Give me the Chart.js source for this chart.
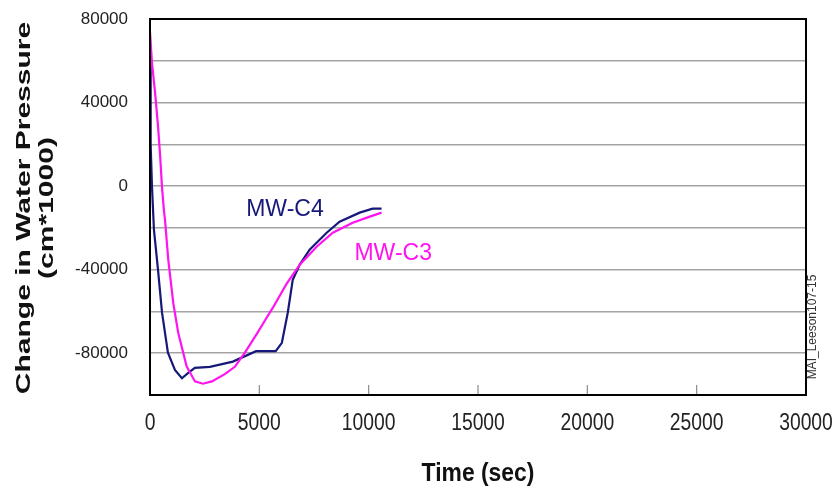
<!DOCTYPE html>
<html>
<head>
<meta charset="utf-8">
<script src="https://cdn.jsdelivr.net/npm/chart.js@4.4.0/dist/chart.umd.min.js"></script>
<style>
  body { margin: 0; background: #fff; }
</style>
</head>
<body>
<canvas id="myChart" width="837" height="493"></canvas>
<script>
// MW-C4 (navy) readings
const c4Time = [0, 20, 40, 90, 180, 365, 550, 820, 1140, 1460, 1735, 2050, 2740, 3790, 4850, 5750, 6030, 6300, 6530, 6850, 7300, 8080, 8670, 9590, 10180, 10590];
const c4Vals = [62000, 55000, 20000, 0, -20800, -40000, -60600, -79700, -88000, -92000, -89500, -87000, -86500, -84000, -79000, -79000, -75000, -60600, -44800, -37600, -30400, -22300, -17000, -12700, -10800, -10800];

// MW-C3 (magenta) readings
const c3Time = [0, 90, 230, 365, 460, 550, 640, 685, 835, 1065, 1290, 1675, 2055, 2420, 2830, 3420, 3880, 4340, 4870, 5340, 5620, 6250, 6850, 7620, 8360, 9270, 10050, 10590];
const c3Vals = [74000, 59000, 45000, 29000, 15000, -700, -12000, -16000, -35200, -56000, -70200, -86300, -93500, -94600, -93500, -90000, -86500, -79700, -71000, -62900, -58200, -46700, -37600, -29000, -22300, -17500, -14600, -12700];

const xTicks = [0, 5000, 10000, 15000, 20000, 25000, 30000];
const yLabelTicks = [80000, 40000, 0, -40000, -80000];

const seriesNames = ['MW-C4', 'MW-C3'];
const seriesColors = ['#16197a', '#ff14f0'];
// where the series names sit, in data units
const nameAt = [[4400, -11500], [9350, -32300]];

const sans = '"Liberation Sans", Arial, sans-serif';

function pts(t, v) {
  return t.map((x, i) => ({x: x, y: v[i]}));
}

// draws text squeezed or stretched along its own direction
function drawText(ctx, txt, x, y, rot, sx) {
  ctx.save();
  ctx.translate(x, y);
  ctx.rotate(rot);
  ctx.scale(sx, 1);
  ctx.fillText(txt, 0, 0);
  ctx.restore();
}

const frame = {
  id: 'frame',
  afterDatasetsDraw(chart) {
    const ctx = chart.ctx;
    const a = chart.chartArea;
    const xs = chart.scales.x;
    ctx.save();
    // little tick marks up from the bottom axis
    ctx.strokeStyle = '#8a8a8a';
    ctx.lineWidth = 1.2;
    xTicks.slice(1, -1).forEach(v => {
      const px = xs.getPixelForValue(v);
      ctx.beginPath();
      ctx.moveTo(px, a.bottom);
      ctx.lineTo(px, a.bottom - 10);
      ctx.stroke();
    });
    ctx.strokeStyle = '#000';
    ctx.lineWidth = 2;
    ctx.strokeRect(a.left, a.top, a.right - a.left, a.bottom - a.top);

    // series names
    ctx.font = '23px ' + sans;
    ctx.textAlign = 'left';
    ctx.textBaseline = 'middle';
    seriesNames.forEach((n, i) => {
      ctx.fillStyle = seriesColors[i];
      ctx.fillText(n, xs.getPixelForValue(nameAt[i][0]), chart.scales.y.getPixelForValue(nameAt[i][1]));
    });

    // x tick labels, narrow like the original
    ctx.textAlign = 'center';
    ctx.fillStyle = '#222';
    ctx.font = '23px ' + sans;
    xTicks.forEach(v => drawText(ctx, String(v), xs.getPixelForValue(v), a.bottom + 29, 0, 0.84));

    // x title
    ctx.fillStyle = '#111';
    ctx.font = 'bold 26px ' + sans;
    drawText(ctx, 'Time (sec)', (a.left + a.right) / 2, 474, 0, 0.88);

    // y title (stretched along its length like the original)
    ctx.font = 'bold 20px ' + sans;
    drawText(ctx, 'Change in Water Pressure', 24, 208, -Math.PI / 2, 1.5);
    drawText(ctx, '(cm*1000)', 47, 208, -Math.PI / 2, 1.5);

    // file tag on the right edge
    ctx.font = '12px ' + sans;
    ctx.fillStyle = '#333';
    drawText(ctx, 'MAI_Leeson107-15', 813, 327, -Math.PI / 2, 1);
    ctx.restore();
  }
};

const data = {
  datasets: [
    {
      label: seriesNames[0],
      data: pts(c4Time, c4Vals),
      borderColor: seriesColors[0],
      borderWidth: 2.2,
      pointRadius: 0,
      tension: 0,
      order: 2
    },
    {
      label: seriesNames[1],
      data: pts(c3Time, c3Vals),
      borderColor: seriesColors[1],
      borderWidth: 2.2,
      pointRadius: 0,
      tension: 0,
      order: 1
    }
  ]
};

const config = {
  type: 'line',
  data: data,
  options: {
    responsive: false,
    animation: false,
    layout: { padding: { top: 19, right: 31, left: 0, bottom: 0 } },
    plugins: { legend: { display: false }, tooltip: { enabled: false } },
    scales: {
      x: {
        type: 'linear',
        min: 0,
        max: 30000,
        afterBuildTicks: s => { s.ticks = xTicks.map(v => ({value: v})); },
        afterFit: s => { s.height = 98; s.paddingLeft = 0; s.paddingRight = 0; },
        grid: { display: false },
        border: { display: false },
        ticks: { display: false }
      },
      y: {
        min: -100000,
        max: 80000,
        afterFit: s => { s.width = 150; s.paddingTop = 0; s.paddingBottom = 0; },
        grid: { color: '#a3a3a3', lineWidth: 1.6, drawTicks: false },
        border: { display: false },
        ticks: {
          stepSize: 20000,
          callback: v => yLabelTicks.includes(v) ? String(v) : '',
          color: '#222',
          padding: 22,
          font: { family: sans, size: 17 }
        }
      }
    }
  },
  plugins: [frame]
};

const myChart = new Chart(document.getElementById('myChart'), config);
</script>
</body>
</html>
